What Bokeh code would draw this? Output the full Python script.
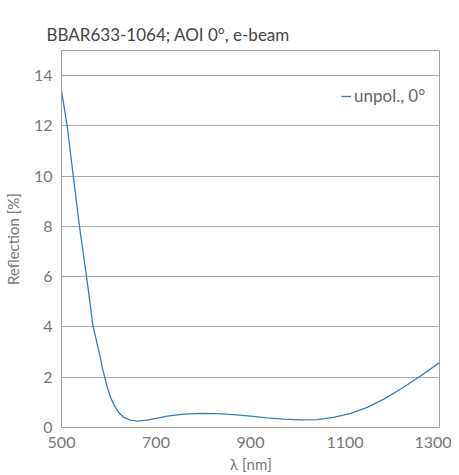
from bokeh.plotting import figure
from bokeh.models import Range1d, FixedTicker, Legend, LegendItem, Title
from bokeh.embed import file_html
from bokeh.resources import INLINE

wavelength = [500, 512, 525, 538, 553, 567, 579, 588, 597, 604, 611, 621, 632, 646, 660, 681,
              700, 724, 759, 794, 830, 865, 900, 935, 970, 1006, 1041, 1076, 1112, 1147, 1182,
              1218, 1256, 1300]
reflection = [13.4, 12.0, 10.0, 8.0, 6.0, 4.0, 3.05, 2.25, 1.6, 1.19, 0.9, 0.6, 0.4, 0.29, 0.25, 0.29,
              0.36, 0.45, 0.53, 0.56, 0.55, 0.51, 0.45, 0.38, 0.33, 0.30, 0.31, 0.40, 0.56, 0.80, 1.13,
              1.53, 2.0, 2.58]
x_ticks = [500, 700, 900, 1100, 1300]
y_ticks = [0, 2, 4, 6, 8, 10, 12, 14]
title_text = "BBAR633-1064; AOI 0°, e-beam"
series_name = "unpol., 0°"

FONT = "Lato"
FW, FH = 378, 377
p = figure(frame_width=FW, frame_height=FH, output_backend="svg", toolbar_location=None,
           x_range=Range1d(500, 1300), y_range=Range1d(0, 15),
           min_border_left=53, min_border_right=12, min_border_top=50, min_border_bottom=40)
p.title = Title(text=title_text, text_font=FONT, text_font_size="17px", text_color="#444444",
                text_font_style="normal", align="left", offset=-15, standoff=8,
                vertical_align="top")
p.outline_line_color = "#a0a0a0"
p.outline_line_width = 1
p.background_fill_color = "white"
p.border_fill_color = "white"

r = p.line(wavelength, reflection, line_color="#3d7ab8", line_width=1.3)

p.xgrid.visible = False
p.ygrid.grid_line_color = "#a8a8a8"
p.ygrid.grid_line_width = 1

for ax in (p.xaxis[0], p.yaxis[0]):
    ax.axis_line_color = "#a0a0a0"
    ax.major_tick_line_color = None
    ax.minor_tick_line_color = None
    ax.major_label_text_font = FONT
    ax.major_label_text_font_size = "16px"
    ax.major_label_text_color = "#777777"
    ax.axis_label_text_font = FONT
    ax.axis_label_text_font_size = "15px"
    ax.axis_label_text_color = "#777777"
    ax.axis_label_text_font_style = "normal"

p.xaxis.ticker = FixedTicker(ticks=x_ticks)
p.yaxis.ticker = FixedTicker(ticks=y_ticks)
p.ygrid.ticker = FixedTicker(ticks=y_ticks)
p.xaxis.axis_label = "λ [nm]"
p.yaxis.axis_label = "Reflection [%]"
p.xaxis.major_label_standoff = 3
p.xaxis.axis_label_standoff = 4
p.yaxis.major_label_standoff = 3
p.yaxis.axis_label_standoff = 9

legend = Legend(items=[LegendItem(label=series_name, renderers=[r])], location=(280, 321),
                glyph_width=10, glyph_height=16, label_standoff=3, padding=0, margin=0, spacing=0,
                border_line_color=None, background_fill_alpha=0,
                label_text_font=FONT, label_text_font_size="17px", label_text_color="#666666")
p.add_layout(legend, "center")

open("out.html", "w").write(file_html(p, INLINE))
